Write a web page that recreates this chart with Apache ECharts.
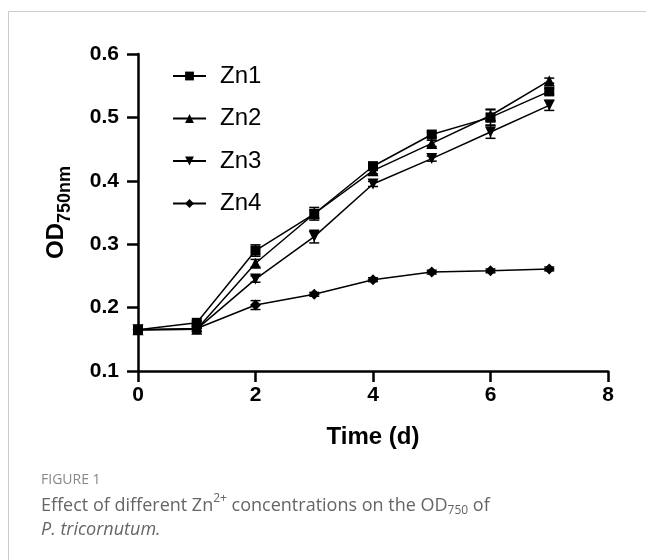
<!DOCTYPE html>
<html>
<head>
<meta charset="utf-8">
<script src="https://cdn.jsdelivr.net/npm/echarts@6/dist/echarts.min.js"></script>
<style>
  html, body { margin: 0; padding: 0; background: #fff; }
  #chart { width: 646px; height: 560px; }
</style>
</head>
<body>
<div id="chart"></div>
<script>
// time points (d)
const days = [0, 1, 2, 3, 4, 5, 6, 7]

// OD750 means
const zn1 = [0.165, 0.176, 0.290, 0.348, 0.423, 0.473, 0.500, 0.541]
const zn2 = [0.165, 0.166, 0.270, 0.348, 0.416, 0.459, 0.503, 0.558]
const zn3 = [0.165, 0.166, 0.245, 0.312, 0.395, 0.435, 0.477, 0.519]
const zn4 = [0.165, 0.167, 0.204, 0.221, 0.244, 0.256, 0.258, 0.261]

// error bar half-widths
const zn1Err = [0.002, 0.003, 0.009, 0.010, 0.006, 0.004, 0.012, 0.005]
const zn2Err = [0.002, 0.004, 0.006, 0.006, 0.005, 0.005, 0.010, 0.004]
const zn3Err = [0.002, 0.004, 0.005, 0.010, 0.004, 0.004, 0.010, 0.008]
const zn4Err = [0.002, 0.003, 0.007, 0.003, 0.003, 0.003, 0.003, 0.003]

const names = ['Zn1', 'Zn2', 'Zn3', 'Zn4']
const means = [zn1, zn2, zn3, zn4]
const errs = [zn1Err, zn2Err, zn3Err, zn4Err]
const symbols = ['rect', 'triangle', 'triangle', 'diamond']
const rotates = [0, 0, 180, 0]
const sizes = [10, 11, 11, 11]

const font = 'Liberation Sans, Arial, sans-serif'
const capFont = 'Open Sans, sans-serif'

const lineSeries = names.map((name, i) => ({
  name,
  type: 'line',
  data: days.map((d, j) => [d, means[i][j]]),
  symbol: symbols[i],
  symbolRotate: rotates[i],
  symbolSize: sizes[i],
  showAllSymbol: true,
  lineStyle: { color: '#000', width: 1.5 },
  itemStyle: { color: '#000' },
  z: 3
}))

const errorSeries = names.map((name, i) => ({
  type: 'custom',
  silent: true,
  data: days.map((d, j) => [d, means[i][j] - errs[i][j], means[i][j] + errs[i][j]]),
  renderItem: (params, api) => {
    const lo = api.coord([api.value(0), api.value(1)])
    const hi = api.coord([api.value(0), api.value(2)])
    const w = 5
    const style = { stroke: '#000', lineWidth: 1.5 }
    return {
      type: 'group',
      children: [
        { type: 'line', shape: { x1: lo[0], y1: lo[1], x2: hi[0], y2: hi[1] }, style },
        { type: 'line', shape: { x1: lo[0] - w, y1: lo[1], x2: lo[0] + w, y2: lo[1] }, style },
        { type: 'line', shape: { x1: hi[0] - w, y1: hi[1], x2: hi[0] + w, y2: hi[1] }, style }
      ]
    }
  },
  z: 2
}))

const chart = echarts.init(document.getElementById('chart'), null, { renderer: 'canvas' })

chart.setOption({
  animation: false,
  backgroundColor: '#fff',
  grid: { left: 138, right: 38, top: 54, bottom: 189 },
  legend: {
    orient: 'vertical',
    left: 167,
    top: 59,
    itemWidth: 33,
    itemHeight: 11,
    itemGap: 18.5,
    data: names,
    textStyle: { fontFamily: font, fontSize: 24, color: '#000', padding: [0, 0, 0, 9] }
  },
  xAxis: {
    type: 'value',
    min: 0,
    max: 8,
    interval: 2,
    name: 'Time (d)',
    nameLocation: 'middle',
    nameGap: 54,
    nameTextStyle: { fontFamily: font, fontSize: 24, fontWeight: 'bold', color: '#000' },
    axisLine: { lineStyle: { color: '#000', width: 2.5 } },
    axisTick: { length: 11, lineStyle: { color: '#000', width: 2.5 } },
    axisLabel: { margin: 14, fontFamily: font, fontSize: 21, fontWeight: 'bold', color: '#000' },
    splitLine: { show: false }
  },
  yAxis: {
    type: 'value',
    min: 0.1,
    max: 0.6,
    interval: 0.1,
    name: '{a|OD}{b|750nm}',
    nameLocation: 'middle',
    nameGap: 64,
    nameTextStyle: {
      rich: {
        a: { fontFamily: font, fontSize: 24, fontWeight: 'bold', color: '#000', verticalAlign: 'bottom', padding: [0, 0, 6, 0] },
        b: { fontFamily: font, fontSize: 18, fontWeight: 'bold', color: '#000', verticalAlign: 'bottom' }
      }
    },
    axisLine: { show: true, lineStyle: { color: '#000', width: 2.5 } },
    axisTick: { show: true, length: 11, lineStyle: { color: '#000', width: 2.5 } },
    axisLabel: {
      margin: 19,
      fontFamily: font,
      fontSize: 21,
      fontWeight: 'bold',
      color: '#000',
      formatter: v => v.toFixed(1)
    },
    splitLine: { show: false }
  },
  graphic: [
    {
      type: 'rect',
      shape: { x: 8.5, y: 11.5, width: 700, height: 600 },
      style: { fill: 'none', stroke: '#cccccc', lineWidth: 1 },
      silent: true,
      z: -10
    },
    {
      type: 'text',
      left: 41,
      top: 473,
      style: { text: 'FIGURE 1', fontFamily: capFont, fontSize: 14, fill: '#888' }
    },
    {
      type: 'text',
      left: 41,
      top: 493,
      style: {
        text: '{t|Effect of different Zn}{sup|2+}{t| concentrations on the OD}{sub|750}{t| of}',
        rich: {
          t: { fontFamily: capFont, fontSize: 18, fill: '#666', verticalAlign: 'bottom', padding: [0, 0, 2, 0] },
          sup: { fontFamily: capFont, fontSize: 12, fill: '#666', verticalAlign: 'bottom', padding: [0, 0, 12, 0] },
          sub: { fontFamily: capFont, fontSize: 12, fill: '#666', verticalAlign: 'bottom' }
        }
      }
    },
    {
      type: 'text',
      left: 41,
      top: 521,
      style: { text: 'P. tricornutum.', fontFamily: capFont, fontSize: 18, fontStyle: 'italic', fill: '#666' }
    }
  ],
  series: [...errorSeries, ...lineSeries]
})
</script>
</body>
</html>
